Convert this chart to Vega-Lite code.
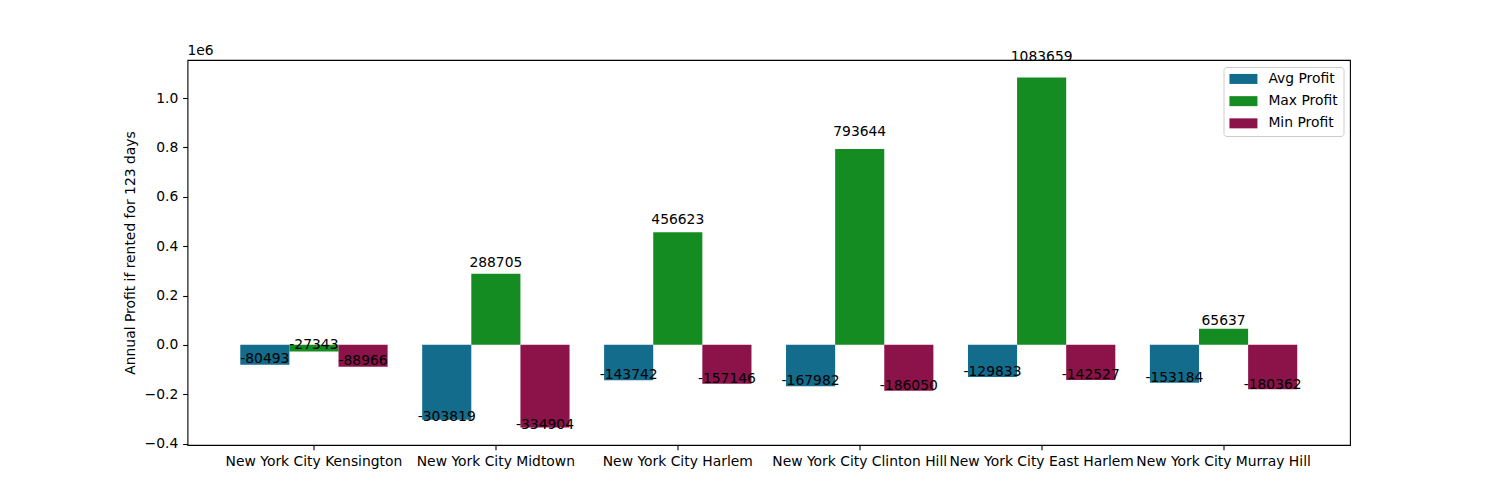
{
  "$schema": "https://vega.github.io/schema/vega-lite/v6.json",
  "autosize": {"type": "none"},
  "padding": {"left": 187.5, "top": 60, "right": 150, "bottom": 55},
  "width": 1162.5,
  "height": 385,
  "background": "white",
  "title": {"text": "1e6", "anchor": "start", "frame": "group", "fontSize": 13.89, "fontWeight": "normal", "font": "DejaVu Sans", "offset": 4, "dy": 23, "baseline": "alphabetic", "color": "black"},
  "data": {
    "values": [
      {"neighbourhood": "New York City Kensington", "metric": "Avg Profit", "profit": -80493},
      {"neighbourhood": "New York City Kensington", "metric": "Max Profit", "profit": -27343},
      {"neighbourhood": "New York City Kensington", "metric": "Min Profit", "profit": -88966},
      {"neighbourhood": "New York City Midtown", "metric": "Avg Profit", "profit": -303819},
      {"neighbourhood": "New York City Midtown", "metric": "Max Profit", "profit": 288705},
      {"neighbourhood": "New York City Midtown", "metric": "Min Profit", "profit": -334904},
      {"neighbourhood": "New York City Harlem", "metric": "Avg Profit", "profit": -143742},
      {"neighbourhood": "New York City Harlem", "metric": "Max Profit", "profit": 456623},
      {"neighbourhood": "New York City Harlem", "metric": "Min Profit", "profit": -157146},
      {"neighbourhood": "New York City Clinton Hill", "metric": "Avg Profit", "profit": -167982},
      {"neighbourhood": "New York City Clinton Hill", "metric": "Max Profit", "profit": 793644},
      {"neighbourhood": "New York City Clinton Hill", "metric": "Min Profit", "profit": -186050},
      {"neighbourhood": "New York City East Harlem", "metric": "Avg Profit", "profit": -129833},
      {"neighbourhood": "New York City East Harlem", "metric": "Max Profit", "profit": 1083659},
      {"neighbourhood": "New York City East Harlem", "metric": "Min Profit", "profit": -142527},
      {"neighbourhood": "New York City Murray Hill", "metric": "Avg Profit", "profit": -153184},
      {"neighbourhood": "New York City Murray Hill", "metric": "Max Profit", "profit": 65637},
      {"neighbourhood": "New York City Murray Hill", "metric": "Min Profit", "profit": -180362}
    ]
  },
  "config": {
    "font": "DejaVu Sans",
    "view": {"stroke": "black", "strokeWidth": 1.1},
    "axis": {
      "labelFontSize": 13.89,
      "labelColor": "black",
      "tickColor": "black",
      "tickSize": 4.86,
      "tickWidth": 1.1,
      "labelPadding": 4.86,
      "domain": false,
      "grid": false,
      "titleFontSize": 13.89,
      "titleFontWeight": "normal",
      "titleColor": "black",
      "labelOverlap": false,
      "labelBound": false,
      "labelLimit": 0
    }
  },
  "layer": [
    {
      "mark": {"type": "bar"},
      "encoding": {
        "x": {"field": "neighbourhood", "type": "nominal", "sort": null,
              "scale": {"paddingInner": 0.19, "paddingOuter": 0.29},
              "axis": {"title": null, "labelAngle": 0}},
        "xOffset": {"field": "metric", "type": "nominal", "sort": ["Avg Profit", "Max Profit", "Min Profit"],
                    "scale": {"paddingInner": 0, "paddingOuter": 0}},
        "y": {"field": "profit", "type": "quantitative",
              "scale": {"domain": [-405832, 1154587], "nice": false, "zero": false},
              "axis": {"title": "Annual Profit if rented for 123 days",
                       "values": [-400000, -200000, 0, 200000, 400000, 600000, 800000, 1000000],
                       "labelExpr": "format(datum.value / 1000000, '.1f')",
                       "titlePadding": 7}},
        "color": {"field": "metric", "type": "nominal",
                  "scale": {"domain": ["Avg Profit", "Max Profit", "Min Profit"], "range": ["#136c8c", "#148c22", "#8b134a"]},
                  "legend": {"title": null, "orient": "top-right", "offset": 7, "fillColor": "white",
                             "strokeColor": "#cccccc", "padding": 5, "cornerRadius": 3,
                             "symbolType": "M-2.8,-1L2.8,-1L2.8,1L-2.8,1Z", "symbolSize": 100,
                             "symbolOffset": 8,
                             "symbolStrokeWidth": 0, "symbolOpacity": 1, "labelFontSize": 13.89,
                             "labelOffset": 18, "rowPadding": 7.2, "labelColor": "black"}}
      }
    },
    {
      "mark": {"type": "text", "baseline": "bottom", "align": "center", "fontSize": 13.89, "color": "black"},
      "encoding": {
        "x": {"field": "neighbourhood", "type": "nominal", "sort": null},
        "xOffset": {"field": "metric", "type": "nominal", "sort": ["Avg Profit", "Max Profit", "Min Profit"]},
        "y": {"field": "profit", "type": "quantitative",
              "scale": {"domain": [-386507, 1099607], "nice": false, "zero": false},
              "axis": null},
        "text": {"field": "profit", "type": "nominal"}
      }
    }
  ],
  "resolve": {"scale": {"y": "independent"}}
}
